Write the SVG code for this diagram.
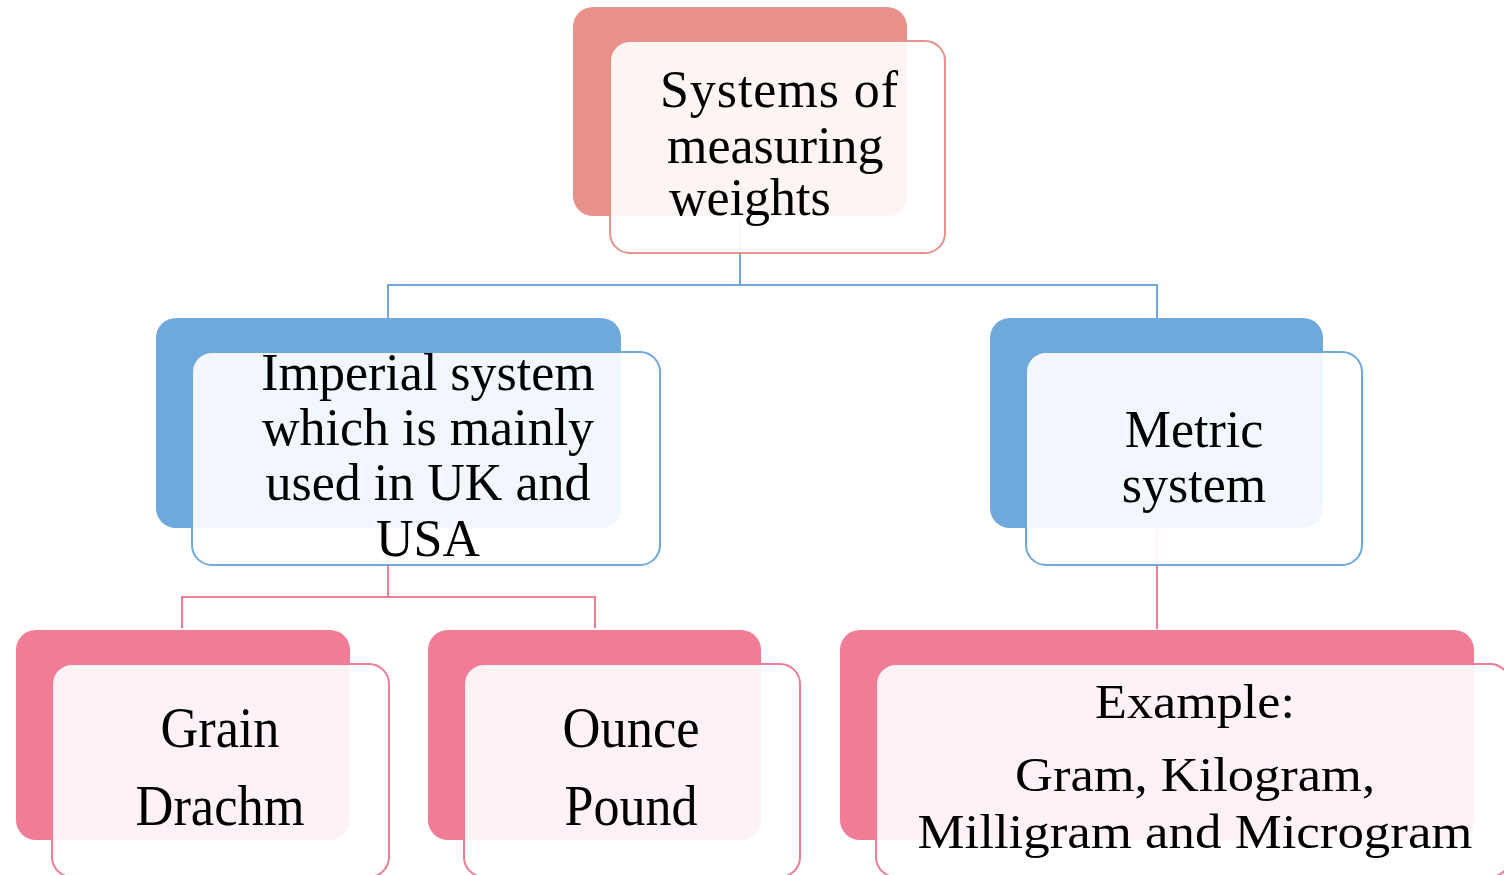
<svg xmlns="http://www.w3.org/2000/svg" width="1504" height="875" viewBox="0 0 1504 875">
<style>
  .t { font-family: "Liberation Serif", "Times New Roman", serif; fill: #000; }
  .c52 { font-size: 52px; }
  .mid { text-anchor: middle; }
  .front { fill: #ffffff; fill-opacity: 0.9; stroke-width: 2; }
  .salmon-b { fill: #E8918A; }
  .salmon-f { stroke: #E8918A; }
  .blue-b { fill: #6FA8DA; }
  .blue-f { stroke: #6FA8DA; }
  .pink-b { fill: #F07C96; }
  .pink-f { stroke: #F07C96; }
  .conn { fill: none; stroke-width: 2; }
</style>
<rect width="1504" height="875" fill="#ffffff"/>
<g id="connectors">
  <path class="conn" stroke="#6FA8DA" d="M740 222 V285 M388 285 H1157 M388 284 V318 M1157 284 V318"/>
  <path class="conn" stroke="#F07C96" d="M388 530 V597 M182 597 H595 M182 596 V628 M595 596 V628"/>
  <path class="conn" stroke="#F07C96" d="M1157 530 V629"/>
</g>
<g id="node-root">
  <rect class="salmon-b" x="573" y="7" width="334" height="209" rx="20"/>
  <rect class="front salmon-f" x="610" y="41" width="335" height="212" rx="20"/>
  <text class="t c52" x="660" y="107" textLength="238" lengthAdjust="spacing">Systems of</text>
  <text class="t c52" x="667" y="163">measuring</text>
  <text class="t c52" x="669" y="215">weights</text>
</g>
<g id="node-imperial">
  <rect class="blue-b" x="156" y="318" width="465" height="210" rx="20"/>
  <rect class="front blue-f" x="192" y="352" width="468" height="213" rx="20"/>
  <text class="t c52 mid" x="428" y="390">Imperial system</text>
  <text class="t c52 mid" x="428" y="445">which is mainly</text>
  <text class="t c52 mid" x="428" y="500">used in UK and</text>
  <text class="t c52 mid" x="428" y="556">USA</text>
</g>
<g id="node-metric">
  <rect class="blue-b" x="990" y="318" width="333" height="210" rx="20"/>
  <rect class="front blue-f" x="1026" y="352" width="336" height="213" rx="20"/>
  <text class="t c52 mid" x="1194" y="447">Metric</text>
  <text class="t c52 mid" x="1194" y="502">system</text>
</g>
<g id="node-grain">
  <rect class="pink-b" x="16" y="630" width="334" height="210" rx="20"/>
  <rect class="front pink-f" x="52" y="664" width="337" height="213" rx="20"/>
  <text class="t mid" font-size="56" x="220" y="747" textLength="119" lengthAdjust="spacingAndGlyphs">Grain</text>
  <text class="t mid" font-size="56" x="220" y="825" textLength="169" lengthAdjust="spacingAndGlyphs">Drachm</text>
</g>
<g id="node-ounce">
  <rect class="pink-b" x="428" y="630" width="333" height="210" rx="20"/>
  <rect class="front pink-f" x="464" y="664" width="336" height="213" rx="20"/>
  <text class="t mid" font-size="56" x="631" y="747" textLength="137" lengthAdjust="spacingAndGlyphs">Ounce</text>
  <text class="t mid" font-size="56" x="631" y="825" textLength="133" lengthAdjust="spacingAndGlyphs">Pound</text>
</g>
<g id="node-example">
  <rect class="pink-b" x="840" y="630" width="634" height="210" rx="20"/>
  <rect class="front pink-f" x="876" y="664" width="634" height="213" rx="20"/>
  <text class="t mid" font-size="48" x="1195" y="718" textLength="200" lengthAdjust="spacingAndGlyphs">Example:</text>
  <text class="t mid" font-size="48" x="1195" y="791" textLength="360" lengthAdjust="spacingAndGlyphs">Gram, Kilogram,</text>
  <text class="t mid" font-size="48" x="1195" y="848" textLength="555" lengthAdjust="spacingAndGlyphs">Milligram and Microgram</text>
</g>
</svg>
